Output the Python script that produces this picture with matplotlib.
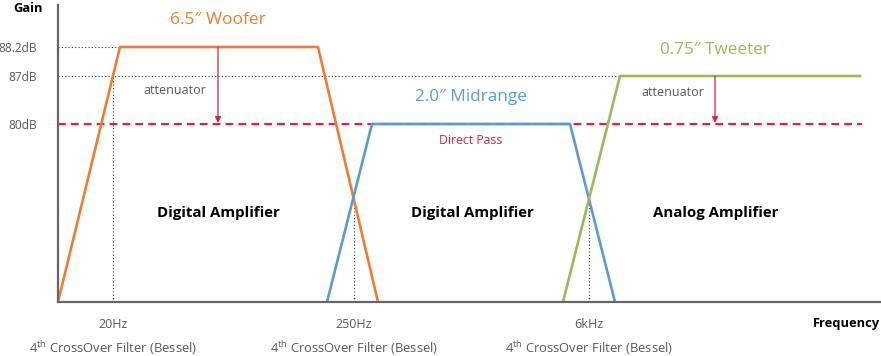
import numpy as np
import matplotlib.pyplot as plt

plt.rcParams['font.family'] = ['Open Sans', 'DejaVu Sans']
plt.rcParams['mathtext.fontset'] = 'custom'
plt.rcParams['mathtext.rm'] = 'Open Sans'

# response curves (x = frequency position, y = gain level)
woofer_x = [0, 62, 260, 320]
woofer_y = [0, 255, 255, 0]
mid_x = [269, 314, 512, 557]
mid_y = [0, 178, 178, 0]
tweeter_x = [505, 562, 802]
tweeter_y = [0, 226, 226]

gain_levels = [255, 226, 178]
gain_labels = ["88.2dB", "87dB", "80dB"]
crossover_x = [55, 296, 531]
crossover_labels = ["20Hz", "250Hz", "6kHz"]
attenuator_x = [160, 657]
attenuator_from = [255, 226]

ORANGE = "#ED7D31"
BLUE = "#5B9BD5"
GREEN = "#9BBB59"
RED = "#D62541"
GRAY = "#595959"

fig = plt.figure(figsize=(8.81, 3.56), dpi=100)
ax = fig.add_axes([58 / 881, 54 / 356, 823 / 881, 297 / 356])
ax.set_xlim(0, 823)
ax.set_ylim(0, 297)

for s in ["top", "right"]:
    ax.spines[s].set_visible(False)
for s in ["left", "bottom"]:
    ax.spines[s].set_color("#666666")
    ax.spines[s].set_linewidth(1.6)
    ax.spines[s].set_zorder(5)

ax.set_xticks([])
ax.set_yticks(gain_levels)
ax.set_yticklabels(gain_labels)
ax.tick_params(axis="y", length=0, pad=15, labelsize=8.6, labelcolor=GRAY)

# dotted reference lines
dot = dict(color="#333333", lw=0.8, linestyle=(0, (1, 2)), zorder=1)
ax.plot([0, woofer_x[1]], [gain_levels[0]] * 2, **dot)
ax.plot([0, tweeter_x[1]], [gain_levels[1]] * 2, **dot)

curves = [(woofer_x, woofer_y), (mid_x, mid_y), (tweeter_x, tweeter_y)]
for cx in crossover_x:
    vals = [np.interp(cx, xs, ys, left=0, right=0) for xs, ys in curves]
    vals = [v for v in vals if v > 0]
    ax.plot([cx, cx], [0, min(vals)], **dot)

# direct pass line
ax.plot([0, 804], [gain_levels[2]] * 2, color=RED, lw=1.6,
        linestyle=(0, (3.5, 2.3)), zorder=2)

ax.plot(woofer_x, woofer_y, color=ORANGE, lw=1.9, zorder=3)
ax.plot(mid_x, mid_y, color=BLUE, lw=1.9, zorder=3)
ax.plot(tweeter_x, tweeter_y, color=GREEN, lw=1.9, zorder=3)

for xa, ya in zip(attenuator_x, attenuator_from):
    ax.annotate("", xy=(xa, gain_levels[2] + 1), xytext=(xa, ya),
                arrowprops=dict(arrowstyle="-|>", color=RED, lw=0.9,
                                mutation_scale=9, shrinkA=0, shrinkB=0),
                zorder=4)

ax.text(117, 212, "attenuator", color=GRAY, fontsize=9, ha="center", va="center")
ax.text(615, 210, "attenuator", color=GRAY, fontsize=9, ha="center", va="center")
ax.text(413, 161, "Direct Pass", color=RED, fontsize=8.8, ha="center", va="center")

ax.text(160, 282, "6.5\u2033 Woofer", color=ORANGE, fontsize=12.5, ha="center", va="center")
ax.text(413, 205, "2.0\u2033 Midrange", color=BLUE, fontsize=12.3, ha="center", va="center")
ax.text(657, 252, "0.75\u2033 Tweeter", color=GREEN, fontsize=12.3, ha="center", va="center")

for xc, name in zip([160, 414, 658], ["Digital Amplifier", "Digital Amplifier", "Analog Amplifier"]):
    ax.text(xc, 89, name, fontsize=10.8, fontweight="bold", ha="center", va="center")

for cx, lab in zip(crossover_x, crossover_labels):
    ax.text(cx, -22, lab, color=GRAY, fontsize=9, ha="center", va="center", clip_on=False)
    ax.text(cx, -46, r"4$^{\mathrm{th}}$ CrossOver Filter (Bessel)", color=GRAY,
            fontsize=9.4, ha="center", va="center", clip_on=False)

ax.text(822, -22, "Frequency", fontsize=9.3, fontweight="bold", ha="right", va="center", clip_on=False)
ax.text(-30, 294, "Gain", fontsize=9.3, fontweight="bold", ha="center", va="center", clip_on=False)

fig.savefig("out.png", dpi=100)
